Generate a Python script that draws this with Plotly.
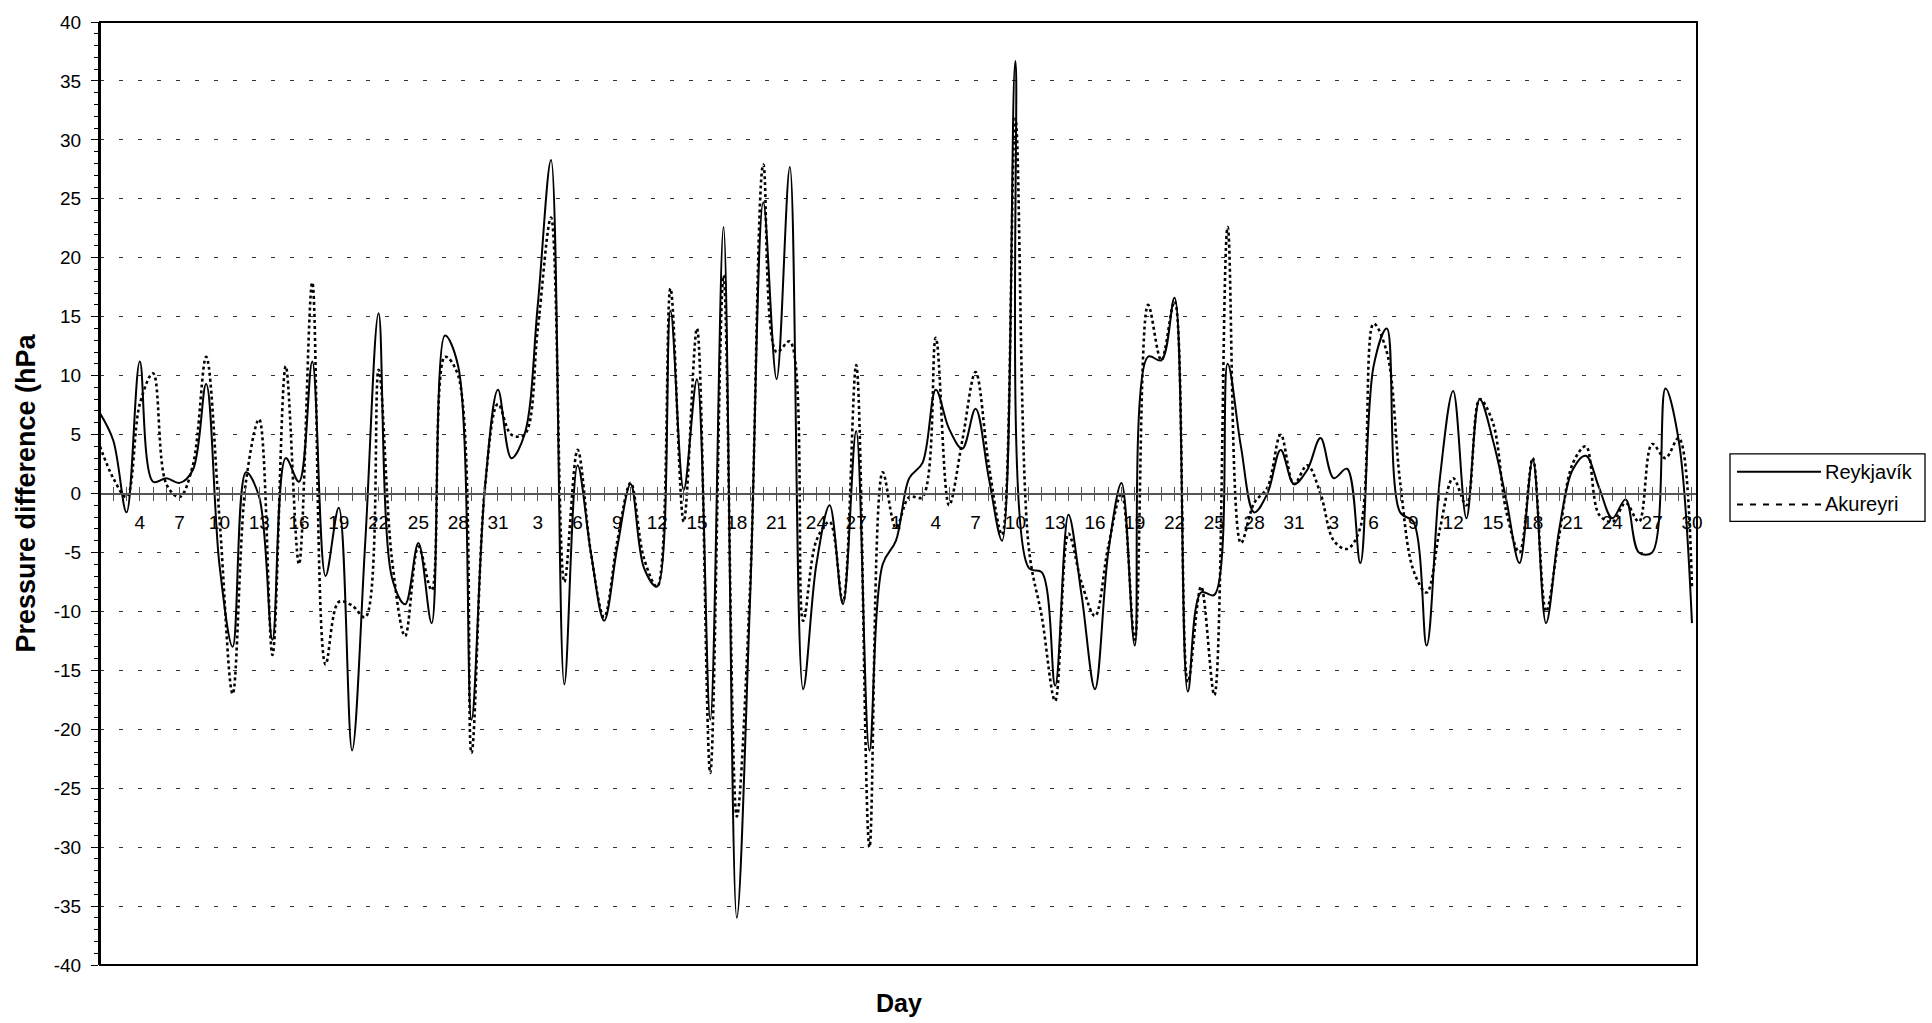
import plotly.graph_objects as go

# ---------------- data ----------------
month_names = ["Jan", "Feb", "Mar", "Apr"]
month_lengths = [31, 29, 31, 30]

reykjavik = [
    # Jan 1-31
    6.8, 4.5, -1.6, 11.2, 1.0, 1.3, 0.9, 2.0, 9.3, -6.0,
    -13.0, 1.8, -0.3, -12.4, 3.0, 1.0, 11.2, -7.0, -1.2, -21.8,
    -4.0, 15.3, -7.1, -9.4, -4.2, -11.0, 13.4, 10.8, -19.2, 0.3,
    8.8,
    # Feb 1-29
    3.0, 5.0, 16.0, 28.3, -16.2, 2.4, -5.0, -10.8, -4.5, 0.8,
    -6.3, -7.9, 15.5, 0.3, 9.7, -19.2, 22.6, -36.0, -9.0, 24.7,
    9.7, 27.7, -16.6, -6.0, -1.0, -9.4, 5.3, -21.8, -6.0,
    # Mar 1-31
    -4.0, 1.3, 2.6, 8.8, 5.5, 3.8, 7.2, 1.3, -4.0, 36.7,
    -6.3, -6.7, -16.3, -1.8, -8.7, -16.6, -5.0, 0.9, -12.9, 11.6,
    11.3, 16.6, -16.8, -8.4, -8.6, 11.0, 4.0, -1.6, 0.0, 3.7,
    0.8,
    # Apr 1-30
    2.0, 4.7, 1.3, 2.1, -5.9, 10.8, 14.0, -1.6, -2.4, -12.9,
    1.3, 8.7, -2.1, 8.0, 4.5, -0.5, -5.9, 2.9, -11.0, -3.0,
    2.0, 3.2, 0.5, -2.1, -0.5, -5.0, -5.0, 8.9, 4.5, -11.0,
]

akureyri = [
    # Jan 1-31
    4.0, 1.3, -0.3, 7.6, 10.2, 0.8, -0.3, 2.4, 11.6, -2.0,
    -17.0, 1.0, 6.3, -13.7, 10.8, -6.0, 17.9, -14.5, -9.2, -9.5,
    -10.5, 10.5, -5.5, -12.1, -4.5, -8.2, 11.6, 10.0, -22.0, 0.3,
    7.6,
    # Feb 1-29
    5.0, 5.0, 14.0, 23.4, -7.5, 3.7, -5.0, -10.5, -4.0, 0.9,
    -5.5, -7.9, 17.4, -2.4, 14.0, -23.7, 18.5, -27.4, -8.0, 27.9,
    12.0, 12.9, -10.8, -4.0, -2.4, -9.2, 10.9, -30.0, 1.8,
    # Mar 1-31
    -2.9, -0.3, -0.3, 13.2, -1.0, 4.5, 10.3, 2.4, -3.5, 31.8,
    -4.5, -10.5, -17.6, -3.4, -7.6, -10.4, -4.5, 0.0, -12.4, 16.0,
    11.3, 16.3, -16.0, -7.9, -17.1, 22.6, -4.2, -0.8, 0.5, 5.0,
    0.8,
    # Apr 1-30
    2.4, 0.0, -4.0, -4.7, -2.9, 14.4, 12.0, 1.0, -6.5, -8.4,
    -3.0, 1.3, -1.0, 8.0, 6.0, -1.5, -5.0, 3.0, -10.0, -3.5,
    2.5, 4.0, -1.8, -2.4, -0.8, -2.4, 4.2, 3.0, 4.7, -8.0,
]

x_tick_labels = [
    "4", "7", "10", "13", "16", "19", "22", "25", "28", "31",
    "3", "6", "9", "12", "15", "18", "21", "24", "27",
    "1", "4", "7", "10", "13", "16", "19", "22", "25", "28", "31",
    "3", "6", "9", "12", "15", "18", "21", "24", "27", "30",
]
y_tick_values = [40, 35, 30, 25, 20, 15, 10, 5, 0, -5, -10, -15, -20, -25, -30, -35, -40]
y_tick_labels = ["40", "35", "30", "25", "20", "15", "10", "5", "0", "-5", "-10",
                 "-15", "-20", "-25", "-30", "-35", "-40"]

series_names = ["Reykjavík", "Akureyri"]
x_title = "Day"
y_title = "Pressure difference (hPa"

# ---------------- layout helpers ----------------
W, H = 1932, 1023
PL, PR, PT, PB = 100, 1697, 15, 965
FONT = "Liberation Sans, Arial, Helvetica, sans-serif"


def px_x(px):
    return (px - PL) / (PR - PL)


def px_y(py):
    return (PB - py) / (PB - PT)


day_index = list(range(len(reykjavik)))
x_tick_positions = list(range(3, len(reykjavik), 3))
x_range = [0, len(reykjavik) - 1 + 0.38]

fig = go.Figure()
fig.add_trace(go.Scatter(
    x=day_index, y=reykjavik, name=series_names[0], mode="lines",
    line=dict(color="black", width=2, shape="spline", smoothing=1.0),
    showlegend=False, xaxis="x", yaxis="y",
))
fig.add_trace(go.Scatter(
    x=day_index, y=akureyri, name=series_names[1], mode="lines",
    line=dict(color="black", width=2.6, dash="dot", shape="spline", smoothing=1.0),
    showlegend=False, xaxis="x2", yaxis="y",
))

tick_font = dict(family=FONT, size=19, color="black")

fig.update_layout(
    width=W, height=H,
    margin=dict(l=PL, r=W - PR, t=PT, b=H - PB, pad=0),
    paper_bgcolor="white", plot_bgcolor="white",
    font=dict(family=FONT, color="black"),
    xaxis=dict(
        range=x_range, anchor="free", position=0.5,
        showline=True, linecolor="#555", linewidth=1.5,
        tickmode="array", tickvals=x_tick_positions, ticktext=x_tick_labels,
        ticks="outside", ticklen=7, tickcolor="#555", tickwidth=1.3,
        minor=dict(dtick=1, tick0=0, ticks="outside", ticklen=7,
                   tickcolor="#555", tickwidth=1.3),
        showgrid=False, zeroline=False,
        tickfont=tick_font, ticklabelstandoff=5,
        fixedrange=True,
    ),
    xaxis2=dict(
        range=x_range, overlaying="x", anchor="free", position=0.5,
        showline=False, showticklabels=False, showgrid=False, zeroline=False,
        tickmode="linear", tick0=0, dtick=1,
        ticks="inside", ticklen=7, tickcolor="#555", tickwidth=1.3,
        fixedrange=True,
    ),
    yaxis=dict(
        range=[-40, 40],
        tickmode="array", tickvals=y_tick_values, ticktext=y_tick_labels,
        ticks="outside", ticklen=7, tickcolor="black", tickwidth=1.3,
        minor=dict(dtick=1, tick0=0, ticks="outside", ticklen=4,
                   tickcolor="black", tickwidth=1),
        showline=True, linecolor="black", linewidth=2,
        showgrid=True, gridcolor="#333", gridwidth=1.2, griddash="4px,15px",
        zeroline=False,
        tickfont=tick_font, ticklabelstandoff=6,
        title=dict(text="<b>" + y_title + "</b>",
                   font=dict(family=FONT, size=27, color="black"), standoff=10),
        fixedrange=True,
    ),
    shapes=[
        # plot frame
        dict(type="rect", xref="paper", yref="paper", x0=0, x1=1, y0=0, y1=1,
             line=dict(color="black", width=2), layer="above"),
        # legend box
        dict(type="rect", xref="paper", yref="paper",
             x0=px_x(1730), x1=px_x(1925), y0=px_y(518), y1=px_y(450),
             line=dict(color="black", width=1.3), fillcolor="white", layer="above"),
        # legend samples
        dict(type="line", xref="paper", yref="paper",
             x0=px_x(1737), x1=px_x(1821), y0=px_y(468), y1=px_y(468),
             line=dict(color="black", width=2), layer="above"),
        dict(type="line", xref="paper", yref="paper",
             x0=px_x(1737), x1=px_x(1821), y0=px_y(501), y1=px_y(501),
             line=dict(color="black", width=2, dash="6px,7px"), layer="above"),
    ],
    annotations=[
        dict(text=series_names[0], xref="paper", yref="paper",
             x=px_x(1823), y=px_y(468), xanchor="left", yanchor="middle",
             showarrow=False, font=dict(family=FONT, size=20, color="black")),
        dict(text=series_names[1], xref="paper", yref="paper",
             x=px_x(1823), y=px_y(501), xanchor="left", yanchor="middle",
             showarrow=False, font=dict(family=FONT, size=20, color="black")),
        dict(text="<b>" + x_title + "</b>", xref="paper", yref="paper",
             x=0.5, y=px_y(1003), xanchor="center", yanchor="middle",
             showarrow=False, font=dict(family=FONT, size=25, color="black")),
    ],
    showlegend=False,
)

fig.write_html("out.html", config={"displayModeBar": False},
               post_script="document.body.style.margin='0';")
